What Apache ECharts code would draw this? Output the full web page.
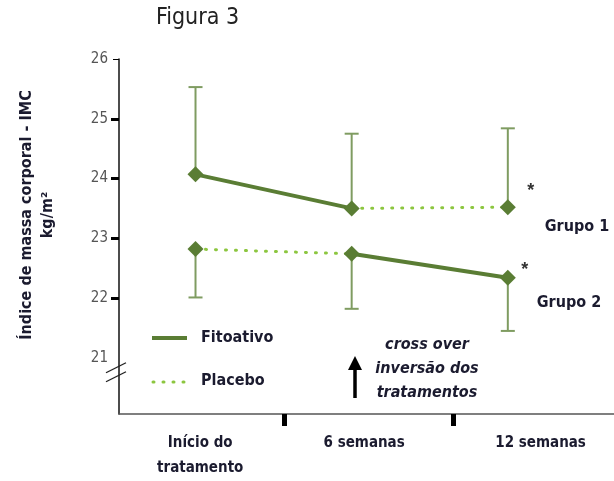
<!DOCTYPE html>
<html>
<head>
<meta charset="utf-8">
<script src="https://cdn.jsdelivr.net/npm/echarts@6/dist/echarts.min.js"></script>
<style>
    html, body { margin: 0; padding: 0; background: #fff; }
    #chart { width: 614px; height: 481px; }
</style>
</head>
<body>
<div id="chart"></div>
<script>
// categorias do eixo x (pontos em 0, 1, 2; rótulos centrados entre as marcas)
var categories = ['Início do\ntratamento', '6 semanas', '12 semanas'];
var xLabelPos = [0.03, 1.08, 2.21];
var xTickPos = [0.57, 1.65];
var yLabels = [21, 22, 23, 24, 25, 26];
var yThickTicks = [22, 23, 24, 25];

// médias
var grupo1 = [24.07, 23.50, 23.52];
var grupo2 = [22.82, 22.74, 22.34];
// limites das barras de erro
var grupo1Sup = [25.53, 24.75, 24.84];
var grupo2Inf = [22.01, 21.82, 21.45];

var FONT = '"Liberation Sans Narrow", "DejaVu Sans Condensed", sans-serif';
var NAVY = '#1b1b2f';
var GREEN = '#5a7d34';
var GREEN_BAR = '#7f9c61';
var GREEN_DOT = '#8cc63f';

var myChart = echarts.init(document.getElementById('chart'));

function pts(arr, from, to) {
    return arr.map(function (v, i) { return [i, (i >= from && i <= to) ? v : null]; })
              .filter(function (p) { return p[1] !== null; });
}

function errData(mean, lim) {
    return mean.map(function (v, i) { return [i, v, lim[i]]; });
}

function renderErr(params, api) {
    var a = api.coord([api.value(0), api.value(1)]);
    var b = api.coord([api.value(0), api.value(2)]);
    var st = { stroke: GREEN_BAR, lineWidth: 2 };
    return {
        type: 'group',
        children: [
            { type: 'line', shape: { x1: a[0], y1: a[1], x2: b[0], y2: b[1] }, style: st },
            { type: 'line', shape: { x1: b[0] - 7, y1: b[1], x2: b[0] + 7, y2: b[1] }, style: st }
        ]
    };
}

var solidStyle = { color: GREEN, width: 4 };
var dotStyle = { color: GREEN_DOT, width: 3, type: [1, 9], cap: 'round' };

var option = {
    animation: false,
    grid: { left: 119, right: 0, top: 59, bottom: 62 },
    xAxis: {
        type: 'value',
        min: -0.49,
        max: 2.68,
        splitLine: { show: false },
        axisLine: { onZero: false, lineStyle: { color: '#555', width: 1.5 } },
        axisTick: { show: true, customValues: xTickPos, length: 12, lineStyle: { color: '#000', width: 5 } },
        axisLabel: {
            customValues: xLabelPos,
            formatter: function (v) {
                var best = 0;
                xLabelPos.forEach(function (p, i) { if (Math.abs(p - v) < Math.abs(xLabelPos[best] - v)) best = i; });
                return categories[best];
            },
            margin: 17,
            fontFamily: FONT, fontSize: 15, fontWeight: 'bold', color: NAVY, lineHeight: 25
        }
    },
    yAxis: [{
        type: 'value',
        min: 20.06,
        max: 26,
        splitLine: { show: false },
        axisLine: { show: true, onZero: false, lineStyle: { color: '#111', width: 1.5 } },
        axisTick: { show: true, customValues: yThickTicks, length: 8, lineStyle: { color: '#000', width: 3 } },
        axisLabel: { customValues: yLabels, margin: 11, fontFamily: FONT, fontSize: 15, color: '#555' }
    }, {
        type: 'value',
        position: 'left',
        min: 20.06,
        max: 26,
        splitLine: { show: false },
        axisLine: { show: false, onZero: false },
        axisTick: { show: true, customValues: [26], length: 6, lineStyle: { color: '#000', width: 1 } },
        axisLabel: { show: false }
    }],
    series: [
        { type: 'custom', name: 'erro1', renderItem: renderErr, data: errData(grupo1, grupo1Sup), silent: true, z: 1 },
        { type: 'custom', name: 'erro2', renderItem: renderErr, data: errData(grupo2, grupo2Inf), silent: true, z: 1 },
        { type: 'line', name: 'Fitoativo', data: pts(grupo1, 0, 1), symbol: 'none', lineStyle: solidStyle, z: 2 },
        { type: 'line', name: 'Fitoativo', data: pts(grupo2, 1, 2), symbol: 'none', lineStyle: solidStyle, z: 2 },
        { type: 'line', name: 'Placebo', data: pts(grupo1, 1, 2), symbol: 'none', lineStyle: dotStyle, z: 2 },
        { type: 'line', name: 'Placebo', data: pts(grupo2, 0, 1), symbol: 'none', lineStyle: dotStyle, z: 2 },
        {
            type: 'scatter', name: 'g1', symbol: 'diamond', symbolSize: 16, itemStyle: { color: GREEN, opacity: 1 }, z: 3,
            data: grupo1.map(function (v, i) {
                var d = { value: [i, v] };
                if (i === 2) d.label = { show: true, formatter: '*', position: 'inside', offset: [23, -16], fontSize: 18, fontWeight: 'bold', color: '#333' };
                return d;
            })
        },
        {
            type: 'scatter', name: 'g2', symbol: 'diamond', symbolSize: 16, itemStyle: { color: GREEN, opacity: 1 }, z: 3,
            data: grupo2.map(function (v, i) {
                var d = { value: [i, v] };
                if (i === 2) d.label = { show: true, formatter: '*', position: 'inside', offset: [17, -8], fontSize: 18, fontWeight: 'bold', color: '#333' };
                return d;
            })
        }
    ]
};
myChart.setOption(option);

// quebra do eixo, legenda, textos e seta
var axisPt = myChart.convertToPixel({ gridIndex: 0 }, [-0.49, 20.85]);
var ax = axisPt[0], ay = axisPt[1];
var txt = { fontFamily: FONT, fontWeight: 'bold', fontSize: 16, fill: NAVY };
myChart.setOption({
    graphic: [
        { type: 'text', left: 156, top: 7, style: { text: 'Figura 3', fontFamily: FONT, fontSize: 23, fill: '#222' } },
        {
            type: 'text', x: 37, y: 215, rotation: Math.PI / 2,
            style: { text: 'Índice de massa corporal - IMC\nkg/m²', align: 'center', verticalAlign: 'middle', lineHeight: 21,
                fontFamily: FONT, fontWeight: 'bold', fontSize: 16, fill: NAVY }
        },
        { type: 'line', shape: { x1: ax - 13, y1: ay + 6, x2: ax + 7, y2: ay - 4 }, style: { stroke: '#222', lineWidth: 1.3 }, z: 11 },
        { type: 'line', shape: { x1: ax - 13, y1: ay + 15, x2: ax + 7, y2: ay + 5 }, style: { stroke: '#222', lineWidth: 1.3 }, z: 11 },
        // legenda
        { type: 'line', shape: { x1: 152, y1: 338, x2: 187, y2: 338 }, style: { stroke: GREEN, lineWidth: 4 } },
        { type: 'text', x: 201, y: 338, style: Object.assign({ text: 'Fitoativo', verticalAlign: 'middle' }, txt) },
        { type: 'line', shape: { x1: 153, y1: 382, x2: 188, y2: 382 }, style: { stroke: GREEN_DOT, lineWidth: 3, lineDash: [1, 9], lineCap: 'round' } },
        { type: 'text', x: 201, y: 381, style: Object.assign({ text: 'Placebo', verticalAlign: 'middle' }, txt) },
        { type: 'text', x: 577, y: 227, style: Object.assign({ text: 'Grupo 1', align: 'center', verticalAlign: 'middle' }, txt) },
        { type: 'text', x: 569, y: 303, style: Object.assign({ text: 'Grupo 2', align: 'center', verticalAlign: 'middle' }, txt) },
        {
            type: 'text', x: 427, y: 369,
            style: Object.assign({ text: 'cross over\ninversão dos\ntratamentos', align: 'center', verticalAlign: 'middle', lineHeight: 24, fontStyle: 'italic' }, txt)
        },
        { type: 'line', shape: { x1: 355, y1: 398, x2: 355, y2: 368 }, style: { stroke: '#000', lineWidth: 3.5 } },
        { type: 'polygon', shape: { points: [[355, 356], [348, 370], [362, 370]] }, style: { fill: '#000' } }
    ]
});
</script>
</body>
</html>
